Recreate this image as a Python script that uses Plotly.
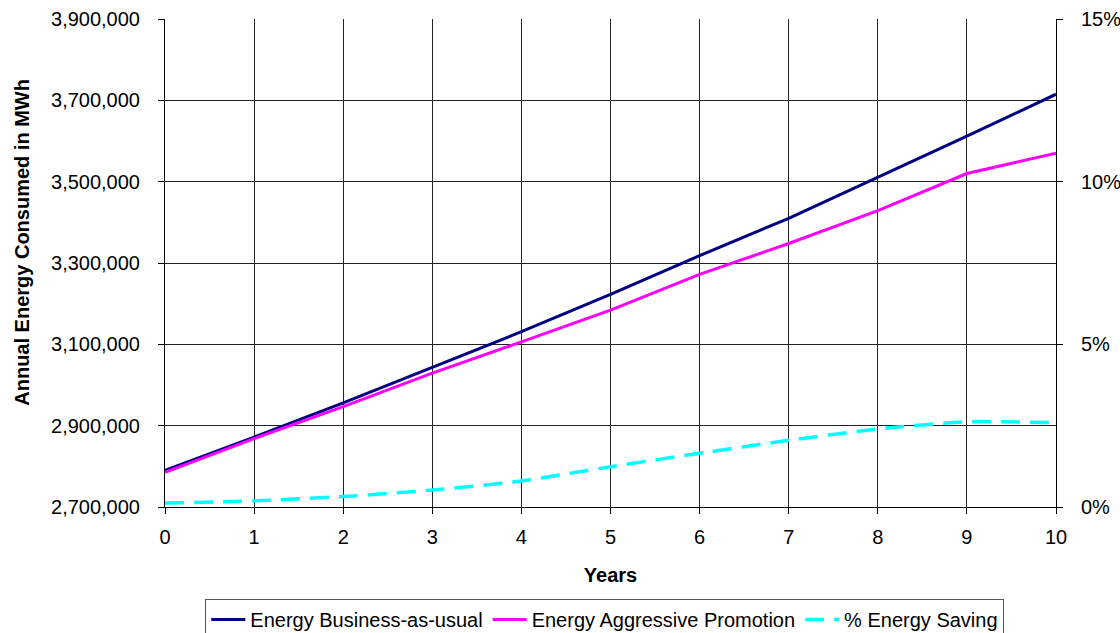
import plotly.graph_objects as go

# Projection years
years = [0, 1, 2, 3, 4, 5, 6, 7, 8, 9, 10]

# Annual energy consumption (MWh)
energy_bau = [2790000, 2872000, 2956000, 3043000, 3131000, 3223000,
              3318000, 3410000, 3510000, 3612000, 3715000]
energy_promo = [2785000, 2868000, 2947000, 3029000, 3106000, 3184000,
                3272000, 3348000, 3429000, 3520000, 3570000]

# Energy saving (%)
saving_pct = [0.12, 0.19, 0.32, 0.52, 0.80, 1.24, 1.65, 2.05, 2.40, 2.62, 2.59]

# Left-axis tick values
energy_ticks = [2700000, 2900000, 3100000, 3300000, 3500000, 3700000, 3900000]

FONT = "Liberation Sans, Arial, sans-serif"

fig = go.Figure()
fig.add_trace(go.Scatter(
    x=years, y=energy_bau, mode="lines", name="Energy Business-as-usual",
    line=dict(color="#000080", width=3)))
fig.add_trace(go.Scatter(
    x=years, y=energy_promo, mode="lines", name="Energy Aggressive Promotion",
    line=dict(color="#FF00FF", width=3)))
fig.add_trace(go.Scatter(
    x=years, y=saving_pct, mode="lines", name="% Energy Saving", yaxis="y2",
    line=dict(color="#00FFFF", width=3.5, dash="19px,10px", shape="spline", smoothing=0.6)))

fig.update_layout(
    width=1120, height=633,
    margin=dict(l=165, r=64, t=19, b=126, autoexpand=False),
    paper_bgcolor="white", plot_bgcolor="white",
    font=dict(family=FONT, size=20, color="black"),
    showlegend=True,
    legend=dict(
        orientation="h", xref="container", x=0.54, xanchor="center",
        yref="container", y=1 - 599 / 633, yanchor="top",
        bordercolor="#555555", borderwidth=1, font=dict(size=20),
        itemwidth=34, tracegroupgap=0),
    xaxis=dict(
        range=[0, 10], tickmode="array", tickvals=years, automargin=False,
        showgrid=True, gridcolor="#222222", gridwidth=1,
        showline=True, linecolor="black", linewidth=1, mirror=False,
        ticks="outside", ticklen=6, tickcolor="black", ticklabelstandoff=6,
        zeroline=False,
        title=dict(text="<b>Years</b>", font=dict(size=20), standoff=20)),
    yaxis=dict(
        range=[2700000, 3900000], tickmode="array", tickvals=energy_ticks,
        tickformat=",d", automargin=False,
        showgrid=True, gridcolor="#222222", gridwidth=1,
        showline=True, linecolor="black", linewidth=1,
        ticks="outside", ticklen=6, tickcolor="black", ticklabelstandoff=14,
        zeroline=False),
    yaxis2=dict(
        range=[0, 15], dtick=5, ticksuffix="%", overlaying="y", side="right",
        automargin=False,
        showgrid=False, showline=True, linecolor="black", linewidth=1,
        ticks="outside", ticklen=6, tickcolor="black", ticklabelstandoff=14,
        zeroline=False),
    annotations=[dict(
        text="<b>Annual Energy Consumed in MWh</b>", textangle=-90,
        xref="paper", yref="paper", x=-0.1608, y=0.543,
        xanchor="center", yanchor="middle", showarrow=False,
        font=dict(size=20))],
)

fig.write_html("out.html")
